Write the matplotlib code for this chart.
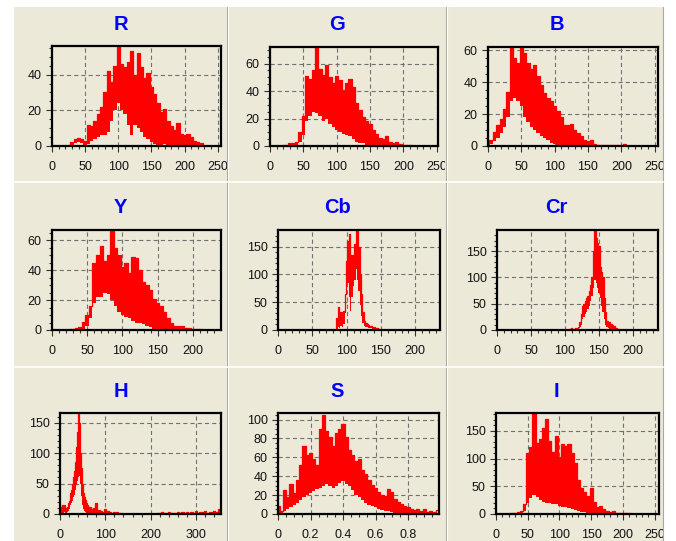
import matplotlib
matplotlib.use("Agg")
import matplotlib.pyplot as plt
from matplotlib.patches import Rectangle
from matplotlib.lines import Line2D

plt.rcParams['font.family'] = ['Liberation Sans', 'DejaVu Sans']
plt.rcParams['lines.scale_dashes'] = False

# ---------------- data ----------------
R_x = list(range(25, 235, 5))
R_hi = [0.5, 2, 4, 4.5, 4, 3, 12, 11, 14, 18, 22, 30, 42, 36, 45, 56, 46, 44, 47, 53, 40,
        52, 44, 38, 41, 33, 29, 24, 19, 21, 14, 11, 9, 13, 7, 6, 7, 5, 3, 2, 1.5, 0]
R_lo = [0, 0.5, 1.5, 2, 1.5, 0.5, 1, 3, 4, 5, 6, 6, 8, 14, 20, 24, 20, 18, 12, 6, 12,
        10, 8, 5, 4, 2, 1, 0, 0.5, 1, 0.5, 0, 0, 0, 0, 0, 0, 0, 0, 0, 0, 0]

G_x = list(range(20, 220, 5))
G_hi = [0.5, 1, 2, 2.5, 3, 10, 22, 51, 49, 55, 72, 56, 52, 59, 50, 46, 51, 48, 41, 46,
        49, 43, 31, 26, 21, 18, 16, 12, 9, 6, 5, 7, 3, 2.5, 3, 1.5, 0.5, 0.5, 1, 0]
G_lo = [0, 0, 0.5, 1, 1, 3, 8, 18, 22, 25, 24, 22, 18, 20, 16, 14, 12, 10, 9, 8,
        7, 5, 3, 2, 2, 1, 0.5, 0, 0, 0, 0, 0, 0, 0, 0, 0, 0, 0, 0, 0]

B_x = list(range(0, 215, 5))
B_hi = [4, 4, 9, 13, 17, 23, 34, 62, 55, 52, 62, 58, 52, 48, 51, 44, 38, 33, 30, 28,
        25, 22, 18, 13, 13, 14, 10, 8, 6, 4, 3, 3.5, 1, 0.5, 0.5, 0.5, 0.5, 0.5, 0.5, 0.5,
        0.5, 1.5, 0]
B_lo = [0, 1, 3, 5, 8, 12, 18, 28, 30, 28, 25, 18, 15, 12, 10, 8, 6, 5, 4, 2,
        1, 0, 0, 0, 0, 0, 0, 0, 0, 0, 0, 0, 0, 0, 0, 0, 0, 0, 0, 0, 0, 0, 0]

Y_x = list(range(25, 220, 5))
Y_hi = [0.5, 1, 1.5, 2, 5.5, 10, 16, 45, 50, 56, 46, 50, 67, 55, 50, 42, 45, 38, 49, 48,
        40, 32, 30, 27, 21, 18, 16, 12, 8, 5, 3, 2.5, 3, 1.5, 1.5, 0.5, 0.5, 0.5, 0]
Y_lo = [0, 0, 0.5, 0.5, 1, 3, 8, 18, 22, 22, 25, 24, 20, 16, 12, 10, 9, 8, 6, 5,
        5, 4, 3, 2, 1, 0.5, 0, 0, 0, 0, 0, 0, 0, 0, 0, 0, 0, 0, 0]

Cb_x = list(range(84, 152, 2))
Cb_hi = [0, 22, 42, 18, 32, 12, 35, 65, 125, 160, 172, 110, 135, 120, 155, 180, 180,
         150, 100, 65, 32, 16, 12, 10, 9, 8, 7, 6, 5, 4, 3, 2, 1, 0]
Cb_lo = [0, 0, 5, 3, 8, 5, 10, 30, 70, 85, 60, 35, 60, 80, 90, 110, 90,
         70, 45, 25, 12, 8, 6, 5, 4, 4, 3, 2, 2, 1, 1, 0, 0, 0]

Cr_x = list(range(104, 182, 2))
Cr_hi = [0, 2, 1, 3, 1, 2, 3, 4, 6, 15, 30, 45, 50, 55, 60, 65, 75, 85, 100, 150,
         190, 175, 165, 160, 120, 110, 100, 60, 35, 18, 16, 15, 12, 10, 8, 4, 3, 1, 0]
Cr_lo = [0, 0, 0, 0, 0, 0.5, 1, 1, 2, 5, 10, 20, 25, 30, 35, 40, 45, 55, 65, 80,
         95, 90, 80, 70, 60, 45, 35, 20, 10, 5, 3, 2, 1, 1, 0, 0, 0, 0, 0]

H_x = list(range(0, 62, 2)) + list(range(65, 360, 5))
H_hi = [15, 12, 10, 15, 12, 15, 8, 10, 12, 18, 22, 28, 35, 40, 50, 60, 70, 85, 110, 135,
        166, 150, 130, 100, 75, 50, 35, 28, 23, 18, 15,
        12, 8, 10, 18, 6, 5, 4, 8, 5, 3, 2, 3, 3, 1, 1, 0.5, 0.5, 0.5, 0.5, 0.5,
        0.5, 0.5, 0.5, 0.5, 0.5, 0.5, 0.5, 0.5, 0.5, 0.5, 1, 1, 3, 1, 2, 3, 1, 2, 1, 3,
        1, 3, 2, 4, 2, 3, 2, 5, 2, 4, 3, 5, 2, 3, 4, 5, 3, 8, 6]
H_lo = [0, 0, 0, 2, 0, 3, 0, 2, 3, 5, 8, 10, 15, 18, 22, 28, 32, 40, 48, 55,
        60, 62, 58, 50, 30, 15, 8, 5, 3, 2, 1,
        1] + [0] * 58

S_x = [i / 50 for i in range(0, 50)]
S_hi = [8, 3, 25, 18, 32, 22, 36, 52, 72, 62, 65, 58, 52, 90, 105, 88, 82, 72, 86, 90,
        95, 82, 68, 63, 56, 58, 47, 42, 36, 31, 28, 23, 20, 19, 26, 23, 16, 13, 11, 9,
        7, 5, 4, 5, 3, 5, 2, 3, 2, 4]
S_lo = [0, 0, 3, 5, 7, 10, 12, 15, 18, 20, 22, 24, 26, 28, 30, 32, 30, 28, 30, 33,
        35, 32, 30, 25, 20, 18, 15, 12, 10, 8, 7, 5, 4, 3, 3, 2, 1, 1, 0.5, 0,
        0, 0, 0, 0, 0, 0, 0, 0, 0, 0]

I_x = list(range(20, 220, 5))
I_hi = [0.5, 1, 2, 3, 6, 18, 110, 120, 182, 128, 135, 155, 171, 132, 112, 141, 102, 126,
        122, 126, 110, 92, 62, 46, 40, 32, 47, 22, 13, 15, 9, 6, 4, 5, 2, 1, 2, 1, 1.5, 0]
I_lo = [0, 0, 0.5, 1, 2, 5, 20, 28, 35, 30, 25, 22, 20, 20, 18, 18, 15, 13,
        12, 10, 9, 7, 5, 4, 3, 2, 1, 0.5, 0.5, 0, 0, 0, 0, 0, 0, 0, 0, 0, 0, 0]

titles = ['R', 'G', 'B', 'Y', 'Cb', 'Cr', 'H', 'S', 'I']
series = [(R_x, R_hi, R_lo), (G_x, G_hi, G_lo), (B_x, B_hi, B_lo),
          (Y_x, Y_hi, Y_lo), (Cb_x, Cb_hi, Cb_lo), (Cr_x, Cr_hi, Cr_lo),
          (H_x, H_hi, H_lo), (S_x, S_hi, S_lo), (I_x, I_hi, I_lo)]
x_ticks = [[0, 50, 100, 150, 200, 250]] * 3 + [[0, 50, 100, 150, 200]] * 3 + \
          [[0, 100, 200, 300], [0, 0.2, 0.4, 0.6, 0.8], [0, 50, 100, 150, 200, 250]]
x_tick_labels = [['0', '50', '100', '150', '200', '250']] * 3 + \
                [['0', '50', '100', '150', '200']] * 3 + \
                [['0', '100', '200', '300'], ['0', '0.2', '0.4', '0.6', '0.8'],
                 ['0', '50', '100', '150', '200', '250']]
y_ticks = [[0, 20, 40], [0, 20, 40, 60], [0, 20, 40, 60], [0, 20, 40, 60],
           [0, 50, 100, 150], [0, 50, 100, 150], [0, 50, 100, 150],
           [0, 20, 40, 60, 80, 100], [0, 50, 100, 150]]
x_lims = [255, 252, 255, 240, 236, 237, 355, 0.99, 257]
y_lims = [56, 72, 62, 67, 180, 190, 166, 107, 182]
x_minor = [10, 10, 10, 10, 10, 10, 20, 0.05, 10]
y_minor = [5, 5, 5, 5, 10, 10, 10, 5, 10]

# ---------------- layout (pixels) ----------------
W, H = 676, 541
BEIGE = '#ECE9D8'
fig = plt.figure(figsize=(W / 100, H / 100), dpi=100, facecolor='white')

def fx(px):
    return px / W

def fy(py):
    return 1 - py / H

fig.patches.append(Rectangle((fx(14), 0), fx(663) - fx(14), fy(7), transform=fig.transFigure,
                             facecolor=BEIGE, edgecolor='none', zorder=-10))

col_bounds = [(14, 227), (229, 446), (450, 663)]
axes_px = [(52, 221, 46, 146), (270, 438, 47, 146), (488, 658, 47, 146),
           (52, 221, 230, 330), (278, 440, 230, 330), (497, 658, 230, 330),
           (60, 221, 413, 514), (278, 439, 413, 514), (496, 659, 413, 514)]
title_base = [30, 30, 30, 213, 213, 213, 397, 397, 397]

for i in range(9):
    l, r, t, b = axes_px[i]
    ax = fig.add_axes([fx(l), fy(b), fx(r) - fx(l), fy(t) - fy(b)])
    ax.set_facecolor(BEIGE)
    xv, hv, lv = series[i]
    ax.fill_between(xv, lv, hv, step='mid', color='#FF0000', lw=0, zorder=2)
    ax.step(xv, hv, where='mid', color='#FF0000', lw=0.9, zorder=3)
    ax.set_xlim(0, x_lims[i])
    ax.set_ylim(0, y_lims[i])
    ax.set_xticks(x_ticks[i], x_tick_labels[i])
    ax.set_yticks(y_ticks[i], [str(v) for v in y_ticks[i]])
    xm = []
    v = x_minor[i]
    while v < x_lims[i]:
        xm.append(v)
        v = round(v + x_minor[i], 6)
    ax.set_xticks(xm, minor=True)
    ym = []
    v = y_minor[i]
    while v < y_lims[i]:
        ym.append(v)
        v += y_minor[i]
    ax.set_yticks(ym, minor=True)
    ax.grid(True, which='major', color='#707070', lw=0.8, linestyle=(0, (3, 2.2)), zorder=1)
    ax.set_axisbelow(True)
    for s in ax.spines.values():
        s.set_linewidth(1.6)
        s.set_color('black')
        s.set_zorder(5)
    ax.tick_params(axis='both', which='major', direction='out', length=4, width=0.8,
                   labelsize=9, labelcolor='#111111', color='#333333')
    ax.tick_params(axis='both', which='minor', direction='out', length=2.5, width=0.8,
                   color='#333333')
    ax.tick_params(axis='x', which='major', pad=7)
    ax.tick_params(axis='y', which='major', pad=3.5)
    c0, c1 = col_bounds[i % 3]
    fig.text(fx((c0 + c1) / 2), fy(title_base[i]), titles[i], color='#0000FF',
             fontsize=14.5, fontweight='bold', ha='center', va='baseline')

# covers that cut tick labels running past a panel edge
for x0, x1, col in [(227, 236, BEIGE), (445, 454, BEIGE), (663, 676, 'white')]:
    fig.patches.append(Rectangle((fx(x0), 0), fx(x1) - fx(x0), fy(7), transform=fig.transFigure,
                                 facecolor=col, edgecolor='none', zorder=10))

# separators
for xs in (227, 446):
    fig.add_artist(Line2D([fx(xs), fx(xs)], [0, fy(7)], color='#ACA899', lw=0.8,
                          transform=fig.transFigure, zorder=11))
    fig.add_artist(Line2D([fx(xs + 1.2), fx(xs + 1.2)], [0, fy(7)], color='white', lw=0.8,
                          transform=fig.transFigure, zorder=11))
fig.add_artist(Line2D([fx(663), fx(663)], [0, fy(7)], color='#ACA899', lw=0.8,
                      transform=fig.transFigure, zorder=11))
for ys in (182.5, 366.5):
    fig.add_artist(Line2D([fx(14), fx(663)], [fy(ys), fy(ys)], color='white', lw=1.2,
                          transform=fig.transFigure, zorder=11))

fig.savefig('out.png', dpi=100, facecolor='white')
